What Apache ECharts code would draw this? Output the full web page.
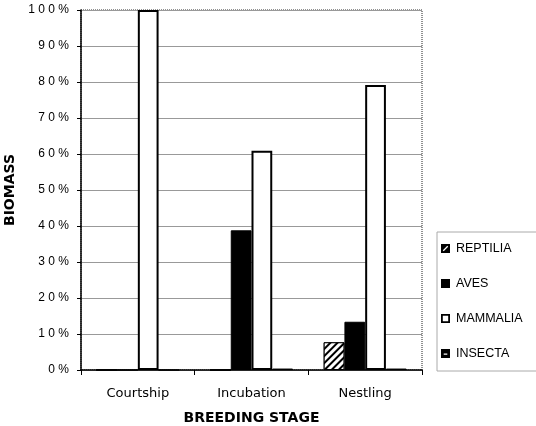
<!DOCTYPE html>
<html>
<head>
<meta charset="utf-8">
<script src="https://cdn.jsdelivr.net/npm/echarts@6/dist/echarts.min.js"></script>
<style>html,body{margin:0;padding:0;background:#fff;}#c{width:536px;height:426px;}</style>
</head>
<body>
<div id="c"></div>
<script>
const categories = ['Courtship', 'Incubation', 'Nestling'];
const reptilia = [0, 0, 7.7];
const aves = [0, 38.8, 13.4];
const mammalia = [100, 60.9, 79.2];
const insecta = [0, 0.4, 0.4];
const yTicks = [0, 10, 20, 30, 40, 50, 60, 70, 80, 90, 100];

const FONT = '"Liberation Sans", Arial, sans-serif';
const DJ = '"DejaVu Sans", sans-serif';
const spaced = s => s.split('').join(' ');
const chart = echarts.init(document.getElementById('c'), null, {renderer: 'canvas'});
chart.setOption({
  animation: false,
  backgroundColor: '#fff',
  grid: {left: 81, right: 114, top: 10, bottom: 56, show: true, outerBoundsMode: 'none', containLabel: false,
    borderColor: '#222', borderWidth: 1, borderType: [1, 1]},
  legend: {
    orient: 'vertical', left: 437, top: 232,
    padding: [10, 40, 11, 4],
    itemWidth: 9, itemHeight: 9, itemGap: 22,
    borderColor: '#aaa', borderWidth: 1,
    textStyle: {fontFamily: FONT, fontSize: 12.5, color: '#000', padding: [0, 0, 0, 1]},
    data: [
      {name: 'REPTILIA', icon: 'path://M0,0L10,0L10,10L0,10Z M3,8L8,3L7,2L2,7Z', itemStyle: {color: '#000', borderWidth: 0, decal: 'none'}},
      {name: 'AVES', icon: 'rect', itemStyle: {color: '#000', borderWidth: 0}},
      {name: 'MAMMALIA', icon: 'path://M0,0L10,0L10,10L0,10Z M2,2L2,8L8,8L8,2Z', itemStyle: {color: '#000', borderWidth: 0}},
      {name: 'INSECTA', icon: 'path://M0,0L10,0L10,10L0,10Z M3,5L3,6.5L7,6.5L7,5Z', itemStyle: {color: '#000', borderWidth: 0}}
    ]
  },
  xAxis: {
    type: 'category', data: categories,
    name: 'BREEDING STAGE', nameLocation: 'middle', nameGap: 41,
    nameTextStyle: {fontFamily: DJ, fontSize: 14, fontWeight: 'bold', color: '#000'},
    axisLine: {lineStyle: {color: '#000', width: 1.5}},
    axisTick: {show: true, length: 5, interval: 0, lineStyle: {color: '#000'}},
    axisLabel: {fontFamily: DJ, fontSize: 13, color: '#000', margin: 17}
  },
  yAxis: {
    type: 'value', min: 0, max: 100, interval: 10,
    name: 'BIOMASS', nameLocation: 'middle', nameRotate: 90, nameGap: 57,
    nameTextStyle: {fontFamily: DJ, fontSize: 14, fontWeight: 'bold', color: '#000'},
    axisLine: {show: true, lineStyle: {color: '#000', width: 1.5}},
    axisTick: {show: true, length: 4, lineStyle: {color: '#000'}},
    axisLabel: {fontFamily: FONT, fontSize: 12, color: '#000', margin: 12,
      formatter: v => yTicks.indexOf(v) >= 0 ? spaced(v + '%') : ''},
    splitLine: {show: true, lineStyle: {color: '#999', width: 1}}
  },
  series: [
    {name: 'REPTILIA', type: 'bar', data: reptilia, barGap: '0%', barCategoryGap: '27%',
     itemStyle: {color: '#fff', borderColor: '#000', borderWidth: 1,
       decal: {symbol: 'rect', color: '#000', backgroundColor: '#fff', dashArrayX: [1, 0], dashArrayY: [1.5, 2.5], rotation: -Math.PI / 4}}},
    {name: 'AVES', type: 'bar', data: aves, itemStyle: {color: '#000', borderColor: '#000', borderWidth: 1}},
    {name: 'MAMMALIA', type: 'bar', data: mammalia, itemStyle: {color: '#fff', borderColor: '#000', borderWidth: 2}},
    {name: 'INSECTA', type: 'bar', data: insecta, itemStyle: {color: '#111', borderColor: '#000', borderWidth: 1}}
  ]
});
</script>
</body>
</html>
